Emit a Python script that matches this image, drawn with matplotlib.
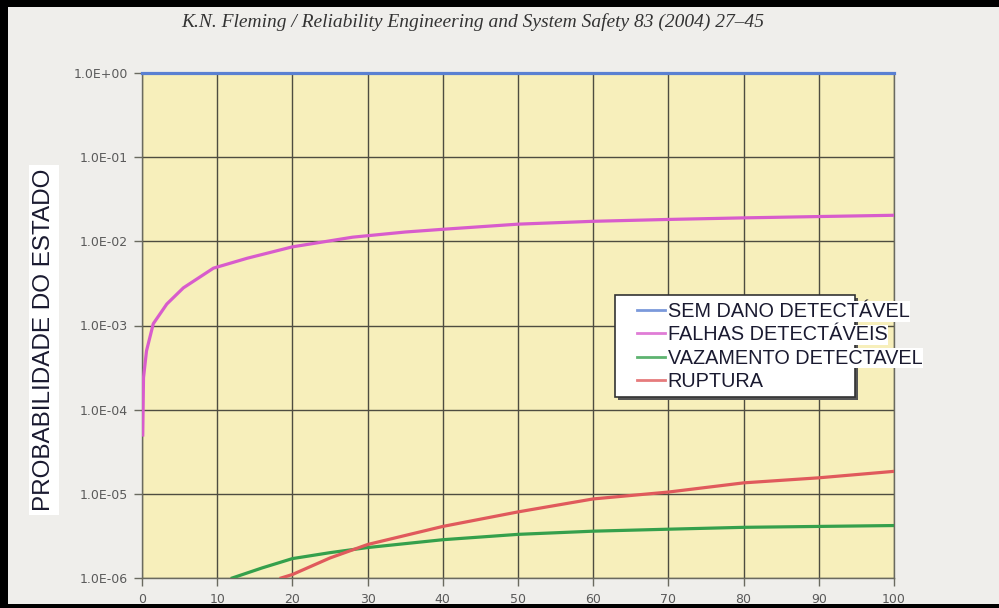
import numpy as np
import matplotlib
matplotlib.use("Agg")
import matplotlib.pyplot as plt
from matplotlib.patches import Rectangle
from matplotlib.ticker import FixedLocator, FuncFormatter

# values
x_sem_dano = [0, 100]
p_sem_dano = [1.0, 1.0]

x_falhas = [0.1, 0.2, 0.6, 1.5, 3.3, 5.5, 9.5, 14, 20, 28, 35, 40,
            50, 60, 70, 80, 90, 100]
p_falhas = [5e-5, 2.4e-4, 5e-4, 1.05e-3, 1.8e-3, 2.8e-3, 4.8e-3, 6.3e-3,
            8.6e-3, 1.12e-2, 1.29e-2, 1.39e-2, 1.6e-2, 1.73e-2, 1.82e-2,
            1.9e-2, 1.97e-2, 2.04e-2]

x_vazamento = [12, 16, 20, 25, 30, 40, 50, 60, 70, 80, 90, 100]
p_vazamento = [1.0e-6, 1.32e-6, 1.7e-6, 2.0e-6, 2.3e-6, 2.85e-6, 3.3e-6,
               3.6e-6, 3.8e-6, 4.0e-6, 4.1e-6, 4.2e-6]

x_ruptura = [18.5, 20, 25, 30, 40, 50, 60, 70, 80, 90, 100]
p_ruptura = [1.0e-6, 1.1e-6, 1.73e-6, 2.5e-6, 4.1e-6, 6.1e-6, 8.7e-6,
             1.05e-5, 1.35e-5, 1.55e-5, 1.85e-5]

labels = ["SEM DANO DETECTÁVEL", "FALHAS DETECTÁVEIS",
          "VAZAMENTO DETECTAVEL", "RUPTURA"]
colors = ["#5a80d2", "#d85ccc", "#35a04c", "#e05a5c"]

x_ticks = list(range(0, 101, 10))
y_ticks = [1e-6, 1e-5, 1e-4, 1e-3, 1e-2, 1e-1, 1e0]

fig = plt.figure(figsize=(9.99, 6.08), dpi=100, facecolor="#efeeeb")
ax = fig.add_axes([142 / 999, 1 - 578 / 608, 752 / 999, 505 / 608])
ax.set_facecolor("#f7efbb")

series = [(x_sem_dano, p_sem_dano), (x_falhas, p_falhas),
          (x_vazamento, p_vazamento), (x_ruptura, p_ruptura)]
lines = []
for (xs, ps), c, lab in zip(series, colors, labels):
    ln, = ax.plot(xs, ps, color=c, lw=2.3, label=lab, zorder=3,
                  clip_on=(lab != labels[0]))
    lines.append(ln)

ax.set_yscale("log")
ax.set_xlim(0, 100)
ax.set_ylim(1e-6, 1)
ax.xaxis.set_major_locator(FixedLocator(x_ticks))
ax.yaxis.set_major_locator(FixedLocator(y_ticks))
ax.yaxis.set_minor_locator(FixedLocator([]))
ax.yaxis.set_major_formatter(FuncFormatter(lambda v, _: f"{v:.1E}"))
ax.grid(True, color="#4e4c40", lw=1.0)
ax.set_axisbelow(True)
for s in ax.spines.values():
    s.set_color("#6a6a60")
    s.set_linewidth(1.0)
ax.tick_params(axis="both", colors="#6a6a60", labelcolor="#5a5a5a",
               labelsize=9, length=6, width=1)
ax.tick_params(axis="y", pad=4)
ax.tick_params(axis="x", pad=5)

ax.set_ylabel("PROBABILIDADE DO ESTADO", family="Liberation Sans",
              fontsize=17.5, color="#1a1a30",
              bbox=dict(facecolor="white", edgecolor="none", pad=3))
ax.yaxis.set_label_coords(-0.1157, 0.471)

fig.text(473 / 999, 1 - 22 / 608,
         "K.N. Fleming / Reliability Engineering and System Safety 83 (2004) 27–45",
         ha="center", va="center", family="Liberation Serif", style="italic",
         fontsize=14, color="#333333")

# legend box with shadow; the labels run past its right edge as in the scan
fig.patches.append(Rectangle((618 / 999, 1 - 400 / 608), 240 / 999, 102 / 608,
                             transform=fig.transFigure, facecolor="#555555",
                             edgecolor="none", zorder=2))
fig.patches.append(Rectangle((615 / 999, 1 - 397 / 608), 240 / 999, 102 / 608,
                             transform=fig.transFigure, facecolor="white",
                             edgecolor="#333333", lw=1.2, zorder=3))
leg = fig.legend(lines, labels, loc="upper left",
                 bbox_to_anchor=(637 / 999, 1 - 302 / 608),
                 bbox_transform=fig.transFigure, frameon=False, borderpad=0,
                 borderaxespad=0, handlelength=1.4, handletextpad=0.15,
                 labelspacing=0.22,
                 prop=dict(family="Liberation Sans", size=14.3))
leg.set_zorder(5)
for t in leg.get_texts():
    t.set_color("#1a1a30")
    t.set_bbox(dict(facecolor="white", edgecolor="none", pad=0.5))
for h in leg.get_lines():
    h.set_linewidth(2)
    h.set_alpha(0.8)

# black scanner border
for r in [(0, 1 - 7 / 608, 1, 7 / 608), (0, 0, 8 / 999, 1), (0, 0, 1, 4 / 608)]:
    fig.patches.append(Rectangle(r[:2], r[2], r[3], transform=fig.transFigure,
                                 facecolor="black", edgecolor="none", zorder=10))

fig.savefig("out.png", dpi=100, facecolor=fig.get_facecolor())
